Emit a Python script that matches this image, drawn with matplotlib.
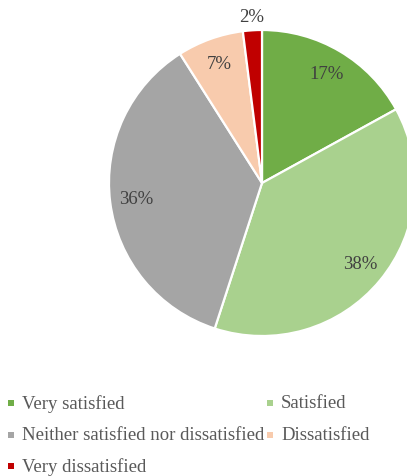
import matplotlib
matplotlib.use("Agg")
import numpy as np
import matplotlib.pyplot as plt
from matplotlib.patches import Rectangle

categories = ["Very satisfied", "Satisfied", "Neither satisfied nor dissatisfied",
              "Dissatisfied", "Very dissatisfied"]
shares = [17, 38, 36, 7, 2]
colors = ["#70AD47", "#A9D18E", "#A5A5A5", "#F8CBAD", "#C00000"]

plt.rcParams["font.family"] = ["Liberation Serif", "DejaVu Serif"]

W, H = 407, 477
fig = plt.figure(figsize=(W / 100, H / 100), dpi=100)
ax = fig.add_axes([0, 0, 1, 1])

# pie centre / radius in pixels
cx, cy, r = 262, 184, 153
wedges, texts = ax.pie(shares, colors=colors, startangle=90, counterclock=False,
                       radius=1.0, wedgeprops=dict(edgecolor="white", linewidth=1.6))

for w, v in zip(wedges, shares):
    ang = np.deg2rad((w.theta1 + w.theta2) / 2)
    d = 0.83 if v > 3 else 1.09
    ax.text(d * np.cos(ang), d * np.sin(ang), f"{v}%", ha="center", va="center",
            fontsize=13.5, color="#404040")

ax.set_xlim(-cx / r, (W - cx) / r)
ax.set_ylim(-(H - cy) / r, cy / r)
ax.set_aspect("auto")
ax.axis("off")

# legend laid out in two columns below the pie
rows_y = [404, 436, 467]
col_x = [11, 270]
for i, (name, col) in enumerate(zip(categories, colors)):
    row, column = divmod(i, 2)
    x = col_x[column]
    y = rows_y[row]
    fig.patches.append(Rectangle(((x - 3) / W, 1 - (y + 3) / H), 6 / W, 6 / H,
                                 transform=fig.transFigure, facecolor=col,
                                 edgecolor="none"))
    fig.text((x + 11) / W, 1 - y / H, name, ha="left", va="center",
             fontsize=13.5, color="#595959")

fig.savefig("out.png", dpi=100)
